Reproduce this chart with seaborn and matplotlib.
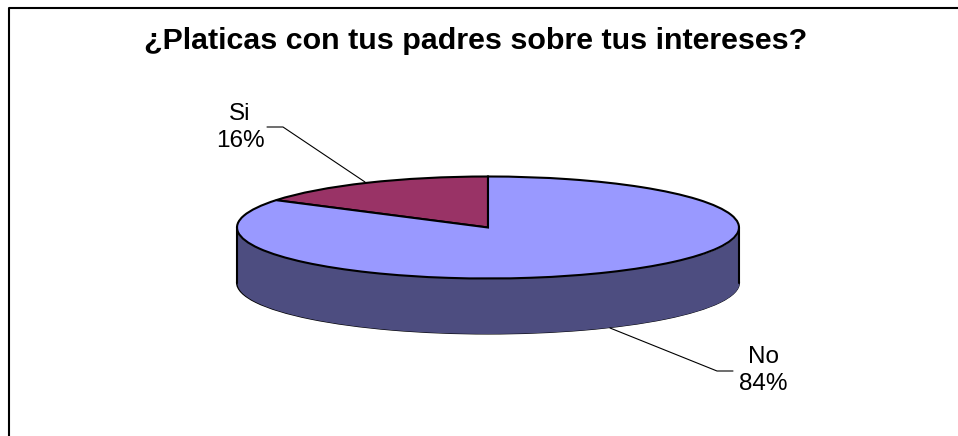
import numpy as np
import seaborn as sns
import matplotlib.pyplot as plt

categories = ['Si', 'No']
values = [16, 84]
title = '¿Platicas con tus padres sobre tus intereses?'
top_colors = ['#993366', '#9999FF']
side_color = '#4D4D80'

W, H = 958, 436
CX, CY = 488, 227.5
RX, RY = 251, 51
DEPTH = 55


def px(x, y):
    # picture pixels to the pie's data units
    return (np.asarray(x, dtype=float) - CX) / RX, (CY - np.asarray(y, dtype=float)) / RY


sns.set_theme(style='white')
plt.rcParams['font.family'] = ['Liberation Sans', 'DejaVu Sans']

fig = plt.figure(figsize=(W / 100, H / 100), dpi=100, facecolor='white')
ax = fig.add_axes([0, 0, 1, 1])

edge = dict(edgecolor='black', linewidth=1.5)
d = DEPTH / RY

# side of the disc first, then the top face over it
ax.pie([1], center=(0, -d), colors=[side_color], wedgeprops=edge)
t = np.linspace(0, np.pi, 200)
ax.fill_between(np.cos(t), -np.sin(t), -np.sin(t) - d, color=side_color, lw=0)
ax.plot([-1, -1], [0, -d], color='black', lw=1.5)
ax.plot([1, 1], [0, -d], color='black', lw=1.5)
ax.pie(values, center=(0, 0), startangle=90, colors=top_colors, wedgeprops=edge)

ax.set_aspect('auto')
ax.set_xlim(*px([0, W], [0, 0])[0])
ax.set_ylim(px(0, H)[1], px(0, 0)[1])

# leader lines
ax.plot(*px([267, 283, 365], [127, 127, 182]), color='black', lw=0.8)
ax.plot(*px([610, 717, 733], [328, 371, 371]), color='black', lw=0.8)

text_style = dict(ha='center', va='center', fontsize=17.5, color='black', linespacing=1.25)
for name, value, pos in zip(categories, values, [(240, 127.5), (763, 370.5)]):
    ax.text(*px(*pos), f'{name}\n{value}%', **text_style)

ax.text(*px(476, 49), title, ha='center', va='baseline', fontsize=21.9,
        fontweight='bold', color='black')

# chart frame: only the left and top edges fall inside the crop
ax.plot(*px([9, 9, W], [H, 8, 8]), color='black', lw=1.5)

fig.savefig('out.png', dpi=100)
